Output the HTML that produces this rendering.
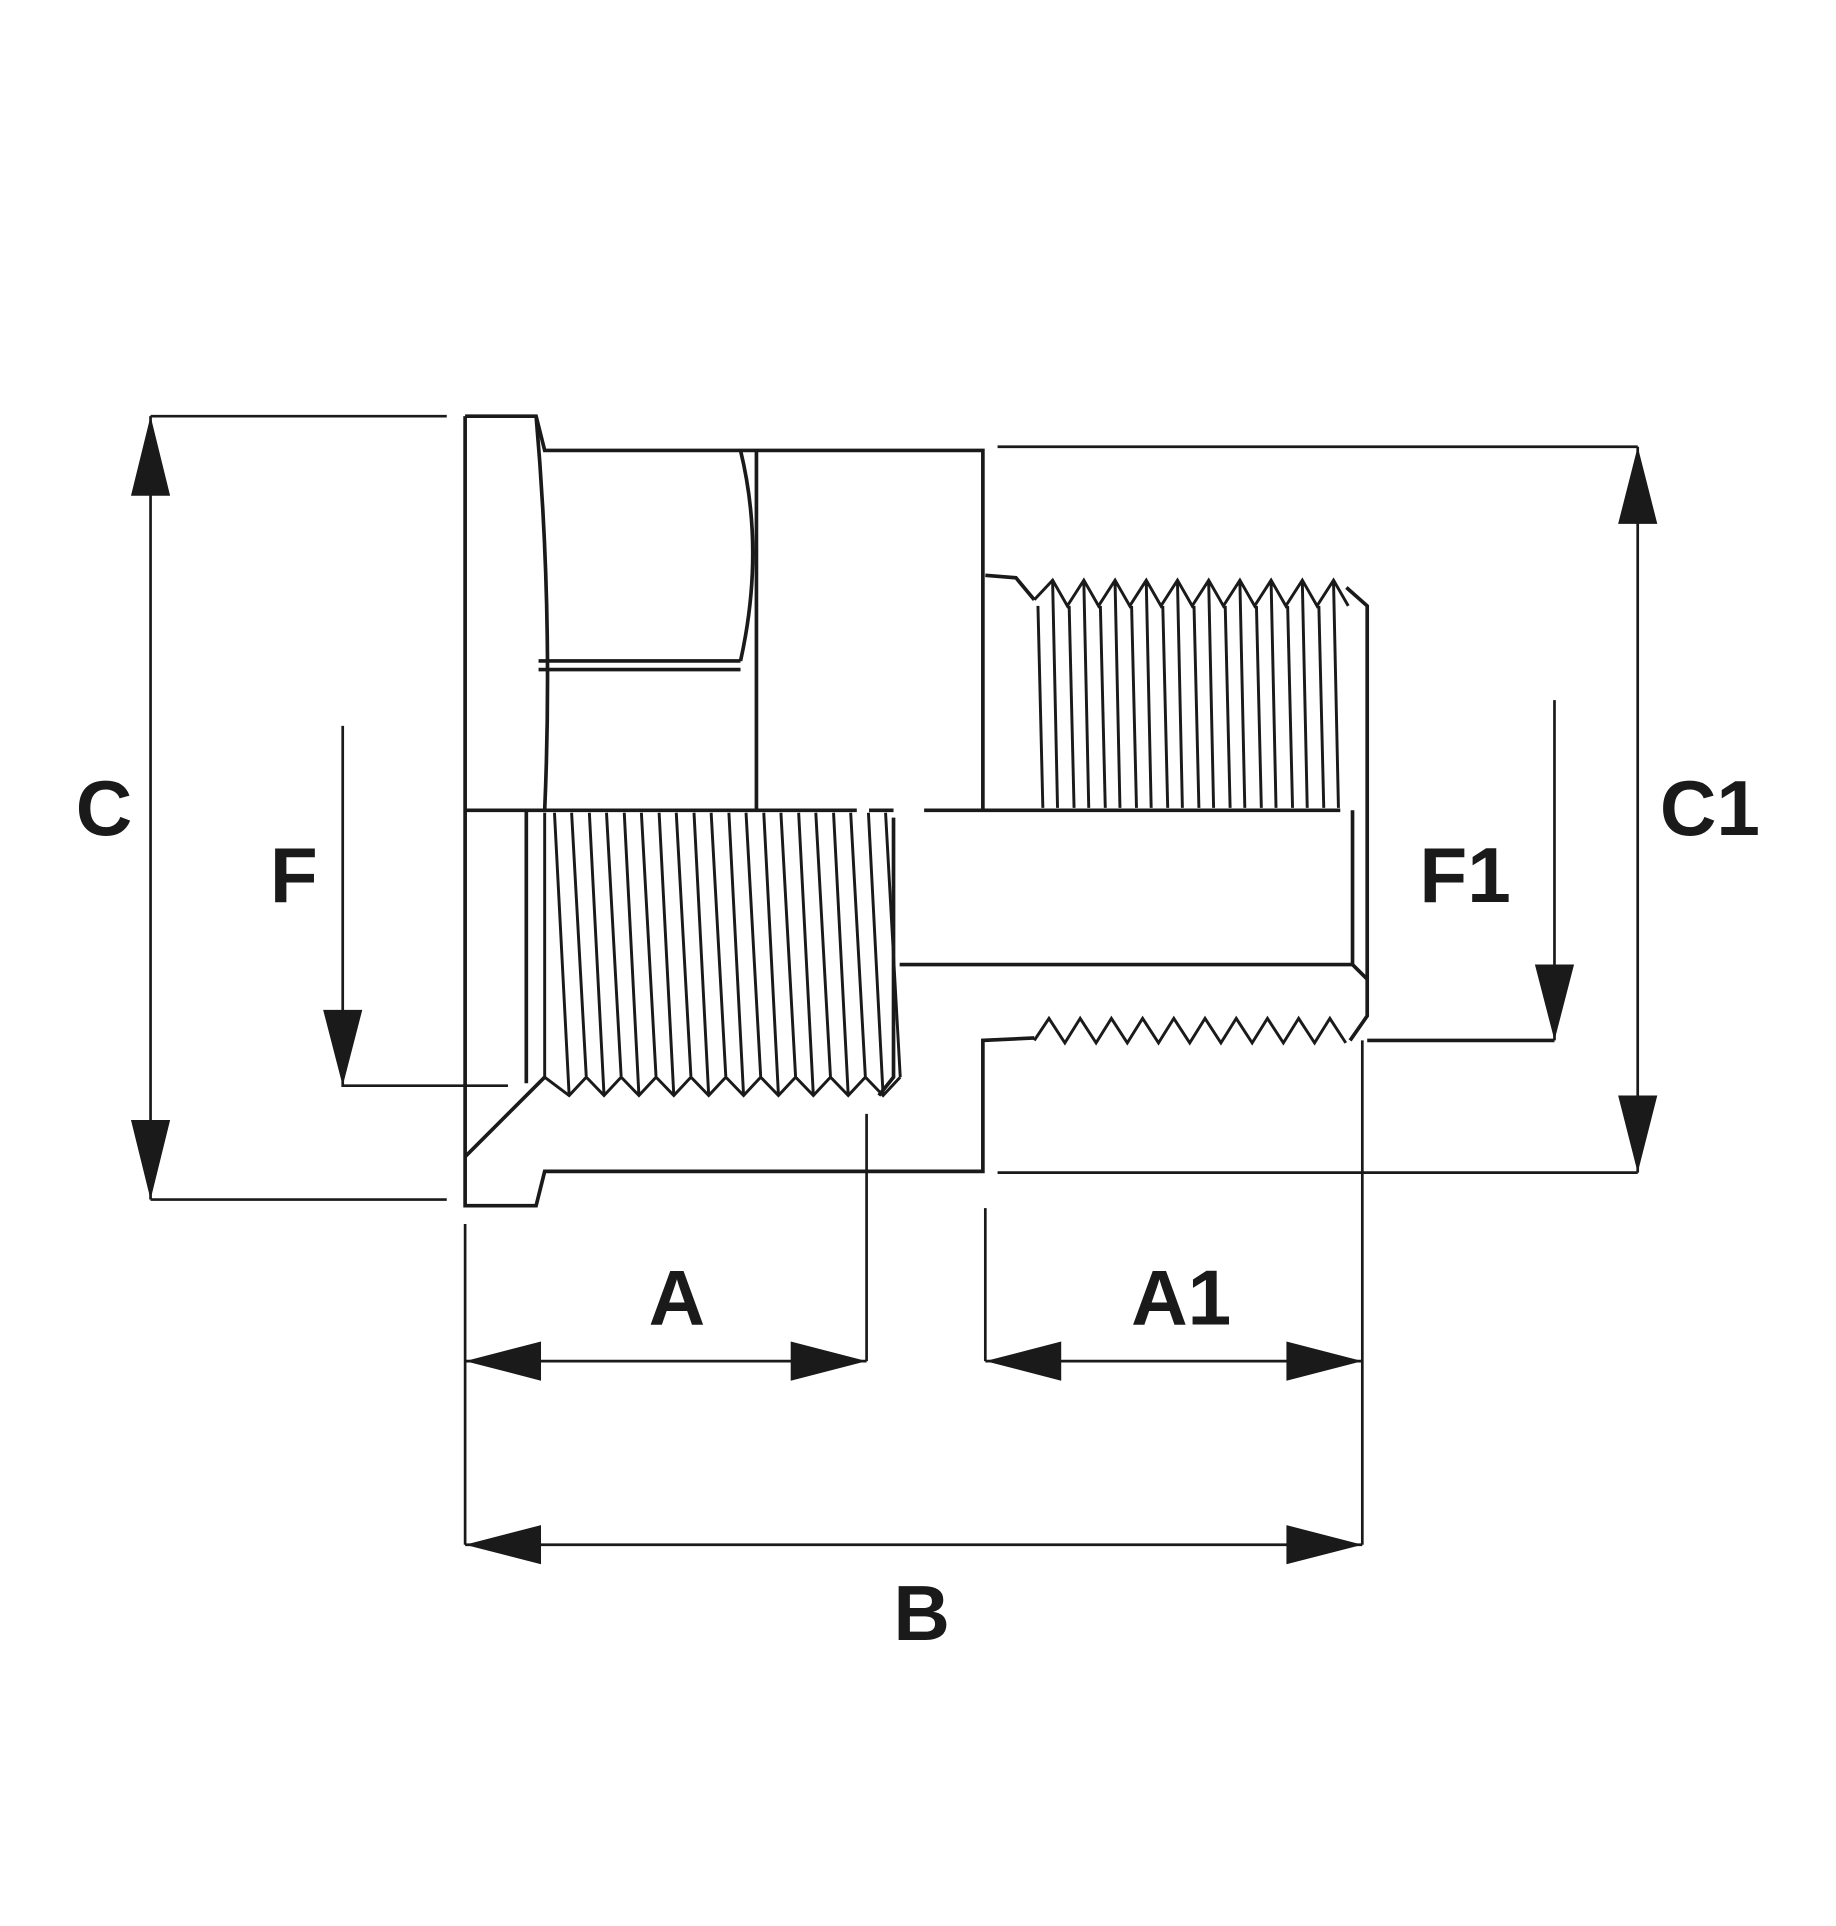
<!DOCTYPE html>
<html><head><meta charset="utf-8"><style>
html,body{margin:0;padding:0;background:#fff;width:1836px;height:1926px;overflow:hidden}
svg{display:block}
text{font-family:"Liberation Sans",sans-serif;font-weight:bold;fill:#1a1a1a}
</style></head><body>
<svg id="s" width="1836" height="1926" viewBox="0 0 1500 1573.5" preserveAspectRatio="none" xmlns="http://www.w3.org/2000/svg">
<g fill="none" stroke="#1a1a1a" stroke-width="3" stroke-linejoin="miter">
<!-- flange -->
<path d="M380,340 L438,340 L445,368 L803,368 L803,662"/>
<path d="M380,340 L380,985 L438,985 L445,957 L803,957 L803,850 L845,848"/>
<path d="M438,340 Q452,500 445,662"/>
<path d="M605,368 Q625,450 605,540 M618,368 L618,662"/>
<path d="M440,540 L605,540 M440,547 L605,547"/>
<!-- center line -->
<path d="M380,662 L700,662 M710,662 L730,662 M755,662 L845,662 M845,662 L1095,662"/>
<!-- chamfer -->
<path d="M380,945 L445,880"/>
<path d="M430,662 L430,885"/>
<path d="M730,668 L730,880 L718,895"/>
<!-- male thread top -->
<path d="M805,470 L830,472 L845,490"/>
<path d="M1100,480 L1117,495 L1117,830 L1103,850"/>
<path d="M735,788 L1105,788 L1117,800"/>
<path d="M1105,788 L1105,662"/>
<path d="M1117,850 L1270,850"/>
</g>
<g id="thr" fill="none" stroke="#1a1a1a" stroke-width="2.4"></g>
<g fill="none" stroke="#1a1a1a" stroke-width="2.2">
<!-- dimension lines -->
<path d="M123,340 L365,340 M123,980 L365,980 M123,340 L123,980"/>
<path d="M815,365 L1338,365 M815,958 L1338,958 M1338,365 L1338,958"/>
<path d="M280,593 L280,887 L415,887"/>
<path d="M1270,572 L1270,850"/>
<path d="M380,1000 L380,1262 M708,910 L708,1112 M805,987 L805,1112 M1113,850 L1113,1262"/>
<path d="M380,1112 L708,1112 M805,1112 L1113,1112 M380,1262 L1113,1262"/>
</g>
<g fill="#1a1a1a">
<path d="M123,340 L107,405 L139,405Z M123,980 L107,915 L139,915Z"/>
<path d="M1338,365 L1322,428 L1354,428Z M1338,958 L1322,895 L1354,895Z"/>
<path d="M280,887 L264,825 L296,825Z M1270,850 L1254,788 L1286,788Z"/>
<path d="M380,1112 L442,1096 L442,1128Z M708,1112 L646,1096 L646,1128Z"/>
<path d="M805,1112 L867,1096 L867,1128Z M1113,1112 L1051,1096 L1051,1128Z"/>
<path d="M380,1262 L442,1246 L442,1278Z M1113,1262 L1051,1246 L1051,1278Z"/>
</g>
<text x="85" y="682" font-size="64" text-anchor="middle">C</text>
<text x="240" y="737" font-size="64" text-anchor="middle">F</text>
<text x="1397" y="682" font-size="64" text-anchor="middle">C1</text>
<text x="1197" y="737" font-size="64" text-anchor="middle">F1</text>
<text x="553" y="1082" font-size="64" text-anchor="middle">A</text>
<text x="965" y="1082" font-size="64" text-anchor="middle">A1</text>
<text x="753" y="1340" font-size="64" text-anchor="middle">B</text>
</svg>
<script>
var g=document.getElementById('thr'),d='';
// female thread: valleys
var p=28.5, x0=450;
d+='M445,880';
for(var i=0;i<10;i++){var vx=x0+i*p+15;d+=' L'+vx+',895 L'+(vx+14)+',880';}
for(var i=0;i<10;i++){var vx=x0+i*p+15;d+=' M'+(vx-12)+',664 L'+vx+',895 M'+(vx+2)+',664 L'+(vx+14)+',880';}
d+=' M445,664 L445,880';
// male thread top
var q=25.5, m0=848;
d+=' M845,490';
for(var i=0;i<10;i++){var px=m0+i*q+12;d+=' L'+px+',474 L'+(px+12)+',495';}
for(var i=0;i<10;i++){var px=m0+i*q;d+=' M'+px+',495 L'+(px+4)+',660 M'+(px+12)+',476 L'+(px+16)+',660';}
// lower zigzag
d+=' M845,850';
for(var i=0;i<10;i++){var px=845+i*q;d+=' L'+(px+12)+',832 L'+(px+25)+',852';}
var e=document.createElementNS('http://www.w3.org/2000/svg','path');e.setAttribute('d',d);g.appendChild(e);
</script>
</body></html>
